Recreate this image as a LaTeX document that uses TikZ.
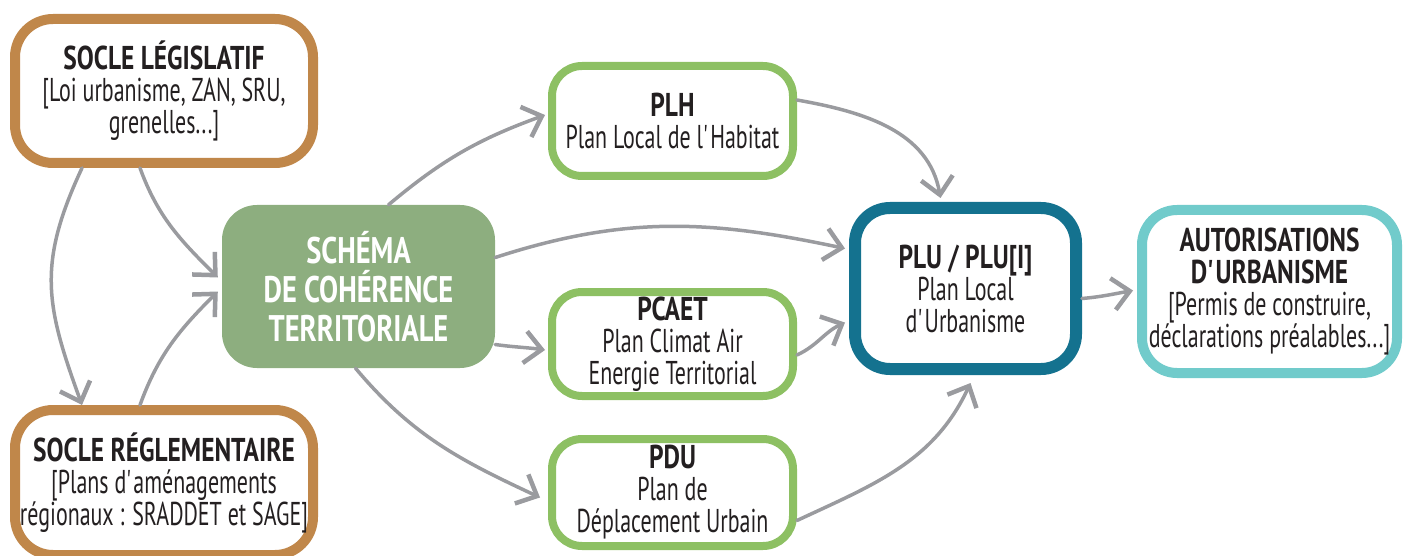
\documentclass[tikz,border=0pt]{standalone}
\usepackage{fontspec}
\setmainfont{PT Sans}[FakeStretch=0.665, BoldFeatures={FakeStretch=0.77}]
\usetikzlibrary{arrows.meta}

\definecolor{socle}{HTML}{C0874A}
\definecolor{planvert}{HTML}{8DC063}
\definecolor{scotvert}{HTML}{8DAE7F}
\definecolor{plubleu}{HTML}{14728F}
\definecolor{autorbleu}{HTML}{71CBCB}
\definecolor{fleche}{HTML}{9A9B9F}
\definecolor{texte}{HTML}{231F20}

\begin{document}
\begin{tikzpicture}[x=1pt, y=1pt,
    boite/.style={draw, fill=white, rounded corners=38pt, inner sep=0pt, align=center,
        text=texte, font=\fontsize{33}{32}\selectfont},
    soclebox/.style={boite, draw=socle, line width=10pt, minimum width=298pt},
    planbox/.style={boite, draw=planvert, line width=8pt, rounded corners=30pt, minimum width=241pt},
    fleche/.style={draw=fleche, line width=3.5pt, line cap=round,
        -{Straight Barb[length=17pt, width=32pt, line width=4.5pt]}}]
    % Fix the page to the reference size
    \useasboundingbox (0,0) rectangle (1405,-556);

    % The two socles on the left
    \node[soclebox, minimum height=144pt] (socleleg) at (164,-91)
        {\textbf{SOCLE LÉGISLATIF}\\{[}Loi urbanisme, ZAN, SRU,\\grenelles...]};
    \node[soclebox, minimum height=145pt] (soclereg) at (164,-482.5)
        {\textbf{SOCLE RÉGLEMENTAIRE}\\{[}Plans d\textquotesingle aménagements\\régionaux : SRADDET et SAGE]};

    % SCoT
    \node[fill=scotvert, rounded corners=35pt, minimum width=273pt, minimum height=163pt,
        inner sep=0pt, align=center, text=white, font=\fontsize{37}{39}\selectfont\bfseries]
        (scot) at (358.5,-286.5) {SCHÉMA\\DE COHÉRENCE\\TERRITORIALE};

    % The three plans
    \node[planbox, minimum height=110pt] (plh) at (672.5,-121)
        {\textbf{PLH}\\Plan Local de l\textquotesingle Habitat};
    \node[planbox, minimum height=104pt] (pcaet) at (672.5,-344)
        {\textbf{PCAET}\\Plan Climat Air\\Energie Territorial};
    \node[planbox, minimum height=107pt] (pdu) at (672.5,-492.5)
        {\textbf{PDU}\\Plan de\\Déplacement Urbain};

    % PLU and autorisations
    \node[boite, draw=plubleu, line width=12pt, rounded corners=35pt,
        minimum width=221pt, minimum height=161pt] (plu) at (965.5,-288.5)
        {\textbf{PLU / PLU[I]}\\Plan Local\\d\textquotesingle Urbanisme};
    \node[boite, draw=autorbleu, line width=10pt, rounded corners=35pt,
        minimum width=255pt, minimum height=163pt] (autor) at (1269.5,-291.5)
        {\textbf{AUTORISATIONS}\\\textbf{D\textquotesingle URBANISME}\\{[}Permis de construire,\\déclarations préalables...]};

    % Arrows
    \draw[fleche] ([xshift=-82pt]socleleg.south) to[out=-115, in=110, looseness=1.15] ([xshift=-82pt]soclereg.north);
    \draw[fleche] ([xshift=-24pt]socleleg.south) to[out=-70, in=135] ([xshift=-4pt, yshift=9pt]scot.west);
    \draw[fleche] ([xshift=-24pt]soclereg.north) to[out=70, in=-135] ([xshift=-4pt, yshift=-5pt]scot.west);
    \draw[fleche] ([xshift=30pt]scot.north) to[out=40, in=200] ([xshift=-3pt, yshift=6pt]plh.west);
    \draw[fleche] ([yshift=29pt]scot.east) to[out=18, in=168] ([xshift=-4pt, yshift=40pt]plu.west);
    \draw[fleche] ([yshift=-58pt]scot.east) to[out=-8, in=172] ([xshift=-3pt, yshift=-6pt]pcaet.west);
    \draw[fleche] ([xshift=-3pt]scot.south) to[out=-50, in=155] ([xshift=-8pt, yshift=-5pt]pdu.west);
    \draw[fleche] ([yshift=21pt]plh.east) to[out=-10, in=100] ([xshift=-25pt, yshift=4pt]plu.north);
    \draw[fleche] ([yshift=-11pt]pcaet.east) to[out=25, in=-155] ([xshift=-4pt, yshift=-34pt]plu.west);
    \draw[fleche] ([yshift=-28pt]pdu.east) to[out=25, in=-115] ([xshift=5pt, yshift=-8pt]plu.south);
    \draw[fleche] ([yshift=-10pt]plu.east) to[out=5, in=-170] ([xshift=-4pt, yshift=1pt]autor.west);
\end{tikzpicture}
\end{document}
